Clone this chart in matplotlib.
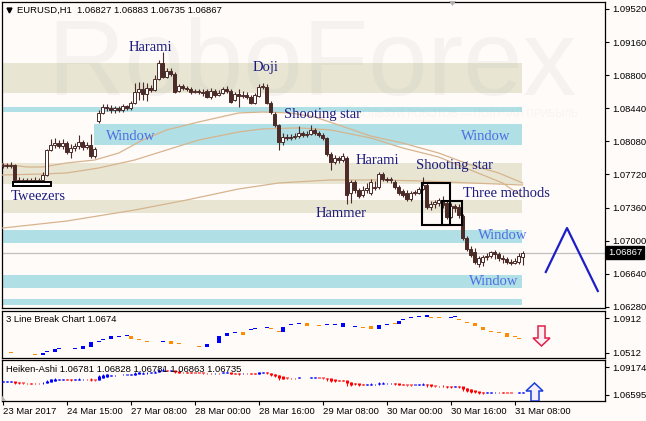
import numpy as np
import matplotlib.pyplot as plt
import matplotlib.transforms as mtransforms
from matplotlib.patches import Rectangle, Polygon

plt.rcParams['font.family'] = ['Liberation Sans', 'DejaVu Sans']

# EURUSD H1 candles (bar index 0 = 23 Mar 2017)
opens = [1.07812, 1.07823, 1.07812, 1.07823, 1.07660, 1.07649, 1.07660, 1.07649, 1.07660, 1.07649,
         1.07660, 1.07714, 1.07986, 1.08040, 1.08062, 1.08029, 1.08062, 1.07964, 1.08008, 1.08029,
         1.08073, 1.08019, 1.08040, 1.07921, 1.08301, 1.08389, 1.08454, 1.08443, 1.08421, 1.08443,
         1.08421, 1.08465, 1.08443, 1.08497, 1.08617, 1.08650, 1.08595, 1.08660, 1.08639, 1.08758,
         1.08932, 1.08780, 1.08845, 1.08813, 1.08628, 1.08682, 1.08660, 1.08650, 1.08617, 1.08628,
         1.08617, 1.08628, 1.08563, 1.08628, 1.08585, 1.08606, 1.08650, 1.08628, 1.08530, 1.08595,
         1.08574, 1.08585, 1.08563, 1.08497, 1.08574, 1.08671, 1.08671, 1.08497, 1.08378, 1.08258,
         1.08073, 1.08127, 1.08117, 1.08127, 1.08138, 1.08171, 1.08149, 1.08160, 1.08204, 1.08171,
         1.08149, 1.08117, 1.07942, 1.07855, 1.07899, 1.07877, 1.07899, 1.07518, 1.07638, 1.07551,
         1.07496, 1.07551, 1.07518, 1.07572, 1.07583, 1.07725, 1.07670, 1.07660, 1.07638, 1.07583,
         1.07540, 1.07518, 1.07453, 1.07518, 1.07518, 1.07562, 1.07605, 1.07366, 1.07398, 1.07409,
         1.07442, 1.07409, 1.07257, 1.07377, 1.07366, 1.07268, 1.07028, 1.06909, 1.06876, 1.06745,
         1.06767, 1.06822, 1.06832, 1.06876, 1.06854, 1.06811, 1.06800, 1.06767, 1.06756, 1.06767,
         1.06827]
highs = [1.07845, 1.07845, 1.07855, 1.07834, 1.07692, 1.07681, 1.07681, 1.07681, 1.07692, 1.07681,
         1.07747, 1.07997, 1.08106, 1.08117, 1.08095, 1.08106, 1.08084, 1.08051, 1.08062, 1.08149,
         1.08095, 1.08073, 1.08160, 1.08019, 1.08421, 1.08486, 1.08486, 1.08475, 1.08465, 1.08465,
         1.08486, 1.08475, 1.08519, 1.08715, 1.08726, 1.08726, 1.08715, 1.08693, 1.08802, 1.08965,
         1.09052, 1.08878, 1.08878, 1.08835, 1.08704, 1.08704, 1.08682, 1.08671, 1.08650, 1.08650,
         1.08650, 1.08650, 1.08660, 1.08650, 1.08639, 1.08671, 1.08682, 1.08650, 1.08617, 1.08650,
         1.08628, 1.08617, 1.08585, 1.08606, 1.08704, 1.08715, 1.08704, 1.08519, 1.08399, 1.08269,
         1.08171, 1.08160, 1.08160, 1.08171, 1.08247, 1.08193, 1.08193, 1.08258, 1.08226, 1.08193,
         1.08171, 1.08127, 1.07964, 1.07932, 1.07921, 1.07953, 1.07921, 1.07660, 1.07660, 1.07572,
         1.07594, 1.07627, 1.07670, 1.07649, 1.07747, 1.07747, 1.07692, 1.07692, 1.07660, 1.07605,
         1.07562, 1.07551, 1.07540, 1.07551, 1.07583, 1.07692, 1.07627, 1.07431, 1.07442, 1.07464,
         1.07485, 1.07442, 1.07409, 1.07398, 1.07398, 1.07290, 1.07050, 1.06941, 1.06920, 1.06832,
         1.06843, 1.06865, 1.06887, 1.06898, 1.06876, 1.06843, 1.06822, 1.06800, 1.06811, 1.06865,
         1.06883]
lows = [1.07790, 1.07790, 1.07790, 1.07638, 1.07627, 1.07627, 1.07627, 1.07616, 1.07627, 1.07627,
        1.07649, 1.07703, 1.07975, 1.08008, 1.08008, 1.07997, 1.07942, 1.07899, 1.07975, 1.07997,
        1.07986, 1.07997, 1.07899, 1.07899, 1.08280, 1.08378, 1.08410, 1.08389, 1.08389, 1.08399,
        1.08399, 1.08421, 1.08421, 1.08486, 1.08530, 1.08530, 1.08519, 1.08617, 1.08628, 1.08748,
        1.08769, 1.08769, 1.08791, 1.08606, 1.08617, 1.08639, 1.08628, 1.08595, 1.08606, 1.08595,
        1.08574, 1.08552, 1.08541, 1.08563, 1.08574, 1.08595, 1.08606, 1.08497, 1.08519, 1.08454,
        1.08552, 1.08541, 1.08486, 1.08486, 1.08563, 1.08650, 1.08486, 1.08378, 1.08236, 1.07986,
        1.08040, 1.08095, 1.08095, 1.08106, 1.08117, 1.08127, 1.08127, 1.08149, 1.08149, 1.08127,
        1.08095, 1.07921, 1.07768, 1.07834, 1.07845, 1.07855, 1.07398, 1.07409, 1.07518, 1.07464,
        1.07475, 1.07518, 1.07496, 1.07551, 1.07562, 1.07649, 1.07638, 1.07627, 1.07562, 1.07496,
        1.07475, 1.07431, 1.07431, 1.07496, 1.07507, 1.07551, 1.07344, 1.07333, 1.07355, 1.07377,
        1.07355, 1.07235, 1.07246, 1.07311, 1.07246, 1.07007, 1.06887, 1.06822, 1.06745, 1.06713,
        1.06724, 1.06789, 1.06811, 1.06800, 1.06778, 1.06756, 1.06745, 1.06734, 1.06745, 1.06745,
        1.06735]
closes = [1.07823, 1.07812, 1.07823, 1.07660, 1.07649, 1.07660, 1.07649, 1.07660, 1.07649, 1.07660,
          1.07714, 1.07986, 1.08040, 1.08062, 1.08029, 1.08062, 1.07964, 1.08008, 1.08029, 1.08073,
          1.08019, 1.08040, 1.07921, 1.07997, 1.08389, 1.08454, 1.08443, 1.08421, 1.08443, 1.08421,
          1.08465, 1.08443, 1.08497, 1.08617, 1.08650, 1.08595, 1.08660, 1.08639, 1.08758, 1.08932,
          1.08780, 1.08845, 1.08813, 1.08617, 1.08682, 1.08660, 1.08650, 1.08617, 1.08628, 1.08617,
          1.08606, 1.08563, 1.08628, 1.08585, 1.08606, 1.08650, 1.08628, 1.08508, 1.08595, 1.08574,
          1.08585, 1.08563, 1.08497, 1.08585, 1.08671, 1.08682, 1.08497, 1.08399, 1.08258, 1.08073,
          1.08127, 1.08117, 1.08127, 1.08138, 1.08171, 1.08149, 1.08160, 1.08204, 1.08171, 1.08149,
          1.08117, 1.07942, 1.07855, 1.07899, 1.07877, 1.07921, 1.07496, 1.07638, 1.07551, 1.07485,
          1.07551, 1.07572, 1.07638, 1.07583, 1.07725, 1.07670, 1.07660, 1.07670, 1.07583, 1.07518,
          1.07496, 1.07453, 1.07518, 1.07529, 1.07562, 1.07605, 1.07366, 1.07398, 1.07420, 1.07442,
          1.07388, 1.07257, 1.07377, 1.07355, 1.07279, 1.07028, 1.06909, 1.06843, 1.06767, 1.06811,
          1.06822, 1.06832, 1.06876, 1.06854, 1.06811, 1.06800, 1.06767, 1.06756, 1.06778, 1.06832,
          1.06867]

# moving averages, read at sample bars
ma1_idx = [0, 6, 10, 16, 23, 29, 35, 41, 49, 59, 65, 72, 78, 84, 92, 100, 109, 117, 124, 130]
ma1_val = [1.07834, 1.07801, 1.07801, 1.07845, 1.07877, 1.07953, 1.08095, 1.08204, 1.08291, 1.08389,
           1.08399, 1.08389, 1.08345, 1.08258, 1.08138, 1.08062, 1.07953, 1.07823, 1.07736, 1.07627]
ma2_idx = [0, 10, 16, 24, 33, 41, 49, 59, 65, 74, 82, 92, 100, 109, 117, 125, 130]
ma2_val = [1.07714, 1.07725, 1.07736, 1.07790, 1.07877, 1.07986, 1.08095, 1.08182, 1.08215, 1.08226,
           1.08204, 1.08117, 1.08008, 1.07910, 1.07768, 1.07627, 1.07475]
ma3_idx = [0, 16, 33, 46, 59, 69, 82, 94, 105, 117, 130]
ma3_val = [1.07137, 1.07213, 1.07333, 1.07442, 1.07562, 1.07627, 1.07660, 1.07660, 1.07649, 1.07627, 1.07605]

# support / resistance zones
beige_top = [1.08932, 1.07845, 1.07442]
beige_bot = [1.08606, 1.07616, 1.07300]
cyan_top = [1.08454, 1.08269, 1.07115, 1.06626, 1.06365]
cyan_bot = [1.08399, 1.08040, 1.06974, 1.06484, 1.06300]
cyan_from = [-1, 22.8, -1, -1, -1]
zone_end = 129.8

# forecast zigzag
fc_idx = [135.8, 141.1, 148.8]
fc_val = [1.06659, 1.07137, 1.06452]

# 3 Line Break bricks
lb_idx = [2, 8, 10, 11, 13, 14, 18, 20, 22, 24, 25, 27, 29, 31, 32, 34, 36, 40, 42, 44, 47, 49,
          51, 54, 56, 58, 60, 62, 63, 66, 67, 69, 70, 72, 74, 76, 79, 81, 83, 85, 88, 90, 92, 94,
          96, 98, 99, 100, 102, 104, 106, 107, 109, 112, 113, 114, 116, 118, 120, 122, 124, 126, 128, 129]
lb_hi = [1.05086, 1.04886, 1.05122, 1.05157, 1.05510, 1.05557, 1.05557, 1.05863, 1.06333, 1.06333,
         1.06615, 1.07003, 1.06921, 1.07038, 1.07003, 1.06533, 1.06333, 1.06333, 1.06415, 1.06145,
         1.05945, 1.05827, 1.06098, 1.07003, 1.07391, 1.07391, 1.07474, 1.07791, 1.07909, 1.08026,
         1.07909, 1.07509, 1.08097, 1.08297, 1.08414, 1.08532, 1.08262, 1.08297, 1.08297, 1.08497,
         1.08097, 1.08026, 1.08179, 1.08297, 1.08297, 1.08414, 1.08802, 1.08885, 1.09085, 1.09273,
         1.09508, 1.09155, 1.09085, 1.09155, 1.09202, 1.08885, 1.08567, 1.08567, 1.08097, 1.07509,
         1.07401, 1.07401, 1.06930, 1.06740]
lb_lo = [1.05086, 1.04886, 1.04804, 1.05157, 1.05157, 1.05557, 1.05557, 1.05557, 1.05827, 1.06333,
         1.06615, 1.06686, 1.06921, 1.07038, 1.06686, 1.06533, 1.06333, 1.06333, 1.06098, 1.06145,
         1.05945, 1.05827, 1.05745, 1.06215, 1.07003, 1.07391, 1.07121, 1.07791, 1.07909, 1.08026,
         1.07909, 1.07509, 1.07509, 1.08297, 1.08414, 1.08262, 1.08262, 1.08297, 1.08297, 1.08097,
         1.08097, 1.08026, 1.07826, 1.07909, 1.08297, 1.08414, 1.08414, 1.08885, 1.09085, 1.09273,
         1.09202, 1.09155, 1.09085, 1.09155, 1.09202, 1.08885, 1.08567, 1.08179, 1.07709, 1.07509,
         1.07401, 1.06921, 1.06930, 1.06740]
lb_up = [0, 0, 1, 1, 1, 1, 1, 1, 1, 1, 1, 1, 1, 1, 0, 0, 0, 1, 0, 0, 0, 0,
         1, 1, 1, 1, 0, 1, 1, 1, 0, 0, 1, 1, 1, 0, 0, 1, 1, 1, 1, 0, 0, 1,
         1, 0, 1, 1, 1, 1, 1, 0, 0, 1, 1, 0, 0, 0, 0, 0, 0, 0, 0, 0]

# Heiken-Ashi readout shown in the sub-window header
ha_header = [1.06781, 1.06828, 1.06781, 1.06863, 1.06735]

date_ticks = [0, 16, 32, 48, 64, 80, 96, 112, 128]
date_labels = ['23 Mar 2017', '24 Mar 15:00', '27 Mar 08:00', '28 Mar 00:00', '28 Mar 16:00',
               '29 Mar 08:00', '30 Mar 00:00', '30 Mar 16:00', '31 Mar 08:00']
price_ticks = [1.09520, 1.09160, 1.08800, 1.08440, 1.08080, 1.07720, 1.07360, 1.07000, 1.06640, 1.06280]

BG = '#fffbf9'
CANDLE = '#4b2a27'
BEIGE = '#e8e6d3'
CYAN = '#b0dfe5'
TAN = '#d6b48e'
NAVY = '#1c1c7e'
WINBLUE = '#4a6fe3'

W, H = 646, 421
fig = plt.figure(figsize=(W / 100, H / 100), dpi=100, facecolor=BG)


def rect(l, t, r, b):
    return [l / W, (H - b) / H, (r - l) / W, (b - t) / H]


ax = fig.add_axes(rect(2, 2, 605, 308))
ax1 = fig.add_axes(rect(2, 311, 605, 358))
ax2 = fig.add_axes(rect(2, 360, 605, 401))
XL = (-0.18, 150.6)

for a in (ax, ax1, ax2):
    a.set_facecolor(BG)
    a.set_xlim(*XL)
    for s in a.spines.values():
        s.set_color('black')
        s.set_linewidth(0.9)
    a.yaxis.tick_right()
    a.tick_params(axis='y', length=3, width=0.8, pad=2, labelsize=6.8, colors='black')
    a.tick_params(axis='x', bottom=False, labelbottom=False)

# ---- main price panel ----
o = np.array(opens)
h = np.array(highs)
l = np.array(lows)
c = np.array(closes)
x = np.arange(len(c))

for top, bot in zip(beige_top, beige_bot):
    ax.fill_between([XL[0] - 1, zone_end], bot, top, color=BEIGE, lw=0, zorder=1)
for top, bot, start in zip(cyan_top, cyan_bot, cyan_from):
    ax.fill_between([start if start > 0 else XL[0] - 1, zone_end], bot, top, color=CYAN, lw=0, zorder=1)

# faint watermark
ax.text(0.514, 0.696, 'RoboForex', transform=ax.transAxes, ha='center', va='baseline',
        fontsize=77, color='#9a9a9a', alpha=0.09, zorder=2)
ax.text(0.955, 0.635, 'ИСПОЛЬЗУЙ РОБОТОВ — ПОЛУЧАЙ ПРИБЫЛЬ', transform=ax.transAxes, ha='right',
        va='center', fontsize=7.5, color='#9a9a9a', alpha=0.07, zorder=2)

ax.axhline(c[-1], color='#c0c0c0', lw=0.9, zorder=2)

ax.plot(ma1_idx, ma1_val, color=TAN, lw=0.9, zorder=3)
ax.plot(ma2_idx, ma2_val, color=TAN, lw=0.9, zorder=3)
ax.plot(ma3_idx, ma3_val, color=TAN, lw=0.9, zorder=3)

up = c >= o
ax.vlines(x, l, h, color=CANDLE, lw=0.8, zorder=4)
body_lo = np.minimum(o, c)
body_h = np.maximum(np.abs(c - o), 0.00004)
ax.bar(x[up], body_h[up], bottom=body_lo[up], width=0.7, facecolor='white',
       edgecolor=CANDLE, lw=0.7, zorder=5)
ax.bar(x[~up], body_h[~up], bottom=body_lo[~up], width=0.7, facecolor=CANDLE,
       edgecolor=CANDLE, lw=0.7, zorder=5)

# pattern markers
ax.add_patch(Rectangle((2.6, 1.07594), 9.5, 0.00044, facecolor='white', edgecolor='black', lw=1.4, zorder=6))
ax.add_patch(Rectangle((104.8, 1.07170), 7.0, 0.00457, facecolor='none', edgecolor='black', lw=1.5, zorder=6))
ax.add_patch(Rectangle((109.8, 1.07170), 5.0, 0.00261, facecolor='none', edgecolor='black', lw=1.5, zorder=6))

serif = dict(family='Liberation Serif', fontsize=10.5, zorder=7, va='center')
labels = [('Harami', 36.8, 1.09096, 'center', NAVY), ('Doji', 65.8, 1.08878, 'center', NAVY),
          ('Shooting star', 70.3, 1.08367, 'left', NAVY), ('Window', 31.9, 1.08138, 'center', WINBLUE),
          ('Window', 120.8, 1.08138, 'center', WINBLUE), ('Tweezers', 8.8, 1.07475, 'center', NAVY),
          ('Harami', 93.8, 1.07877, 'center', NAVY), ('Shooting star', 112.9, 1.07812, 'center', NAVY),
          ('Three methods', 125.9, 1.07518, 'center', NAVY), ('Hammer', 84.7, 1.07290, 'center', NAVY),
          ('Window', 125.0, 1.07061, 'center', WINBLUE), ('Window', 122.9, 1.06550, 'center', WINBLUE)]
for txt, tx, ty, ha, col in labels:
    ax.text(tx, ty, txt, ha=ha, color=col, **serif)

ax.plot(fc_idx, fc_val, color='#1e1ec8', lw=1.6, zorder=6)

ax.set_ylim(1.06267, 1.09596)
ax.set_yticks(price_ticks)
ax.set_yticklabels(['%.5f' % v for v in price_ticks])

trans = mtransforms.blended_transform_factory(ax.transAxes, ax.transData)
ax.text(1.0 + 3 / 603, c[-1], '%.5f' % c[-1], transform=trans, ha='left', va='center',
        fontsize=6.8, color='white', zorder=10, clip_on=False,
        bbox=dict(boxstyle='square,pad=0.2', fc='black', ec='black'))

ax.plot([0.011], [0.973], marker='v', color='black', markersize=3.5, transform=ax.transAxes)
ax.text(0.025, 0.973, 'EURUSD,H1  %.5f %.5f %.5f %.5f' % (o[-1], h[-1], l[-1], c[-1]),
        transform=ax.transAxes, ha='left', va='center', fontsize=6.8, color='black', zorder=8)
fig.patches.append(Polygon([[449 / W, 1 - 1 / H], [456 / W, 1 - 1 / H], [452.5 / W, 1 - 6 / H]],
                           closed=True, transform=fig.transFigure, facecolor='#b0b0b0',
                           edgecolor='none', zorder=10))

# ---- 3 Line Break panel ----
lb_hi_a = np.array(lb_hi)
lb_lo_a = np.array(lb_lo)
lb_cols = ['#0000ff' if u else '#ff8c00' for u in lb_up]
lb_h = np.maximum(lb_hi_a - lb_lo_a, 0.0011)
ax1.bar(lb_idx, lb_h, bottom=lb_lo_a, width=0.95, color=lb_cols, lw=0, zorder=3)
ax1.set_ylim(1.04496, 1.09943)
ax1.set_yticks([1.0912, 1.0512])
ax1.set_yticklabels(['1.0912', '1.0512'])
ax1.text(0.0066, 0.81, '3 Line Break Chart %.4f' % lb_lo[-1], transform=ax1.transAxes,
         ha='left', va='center', fontsize=6.8, color='black')


def ax_pts(box, pts):
    lft, top, rgt, bot = box
    return [[(px - lft) / (rgt - lft), (bot - py) / (bot - top)] for px, py in pts]


down_arrow = ax_pts((2, 311, 605, 358), [(538, 326), (545, 326), (545, 338), (550, 338),
                                          (541.5, 346), (533, 338), (538, 338)])
ax1.add_patch(Polygon(down_arrow, closed=True, transform=ax1.transAxes, facecolor='#fdeef4',
                      edgecolor='#e0204a', lw=1.1, zorder=5))

# ---- Heiken-Ashi panel ----
ha_close = (o + h + l + c) / 4
ha_open = np.empty_like(ha_close)
ha_open[0] = (o[0] + c[0]) / 2
for i in range(1, len(c)):
    ha_open[i] = (ha_open[i - 1] + ha_close[i - 1]) / 2
ha_high = np.maximum(h, np.maximum(ha_open, ha_close))
ha_low = np.minimum(l, np.minimum(ha_open, ha_close))
ha_cols = np.where(ha_open > ha_close, '#ff0000', '#0000ff')
ax2.vlines(x, ha_low, ha_high, colors=ha_cols, lw=0.7, zorder=3)
ax2.vlines(x, np.minimum(ha_open, ha_close), np.maximum(ha_open, ha_close) + 0.0004,
           colors=ha_cols, lw=2.2, zorder=3)
ax2.set_ylim(1.06042, 1.09819)
ax2.set_yticks([1.09174, 1.06595])
ax2.set_yticklabels(['1.09174', '1.06595'])
ax2.text(0.0066, 0.78, 'Heiken-Ashi ' + ' '.join('%.5f' % v for v in ha_header),
         transform=ax2.transAxes, ha='left', va='center', fontsize=6.8, color='black', zorder=6)

up_arrow = ax_pts((2, 360, 605, 401), [(534.5, 383), (543, 391), (539, 391), (539, 401),
                                        (531, 401), (531, 391), (526, 391)])
ax2.add_patch(Polygon(up_arrow, closed=True, transform=ax2.transAxes, facecolor='#f5effc',
                      edgecolor='#1a3cdc', lw=1.1, zorder=5))
ax2.add_patch(Polygon([[0, 0], [0.007, 0], [0, 0.13]], closed=True, transform=ax2.transAxes,
                      facecolor='#b0b0b0', edgecolor='none', zorder=5))

ax2.tick_params(axis='x', bottom=True, labelbottom=True, length=3, width=0.8, pad=1.5,
                labelsize=6.8, direction='out')
ax2.set_xticks(date_ticks)
ax2.set_xticklabels(date_labels)
for lab in ax2.get_xticklabels():
    lab.set_ha('left')

fig.savefig('out.png', dpi=100, facecolor=BG)
